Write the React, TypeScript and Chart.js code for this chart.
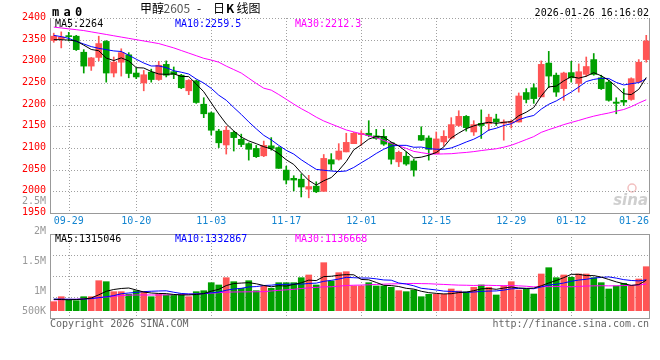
import React, { useEffect, useRef } from 'react';
import { Chart, registerables } from 'chart.js';

Chart.register(...registerables);

// ---------------- data ----------------
const dates = [
  '09-25', '09-26', '09-29', '09-30', '10-09', '10-10', '10-13', '10-14', '10-15', '10-16',
  '10-17', '10-20', '10-21', '10-22', '10-23', '10-24', '10-27', '10-28', '10-29', '10-30',
  '10-31', '11-03', '11-04', '11-05', '11-06', '11-07', '11-10', '11-11', '11-12', '11-13',
  '11-14', '11-17', '11-18', '11-19', '11-20', '11-21', '11-24', '11-25', '11-26', '11-27',
  '11-28', '12-01', '12-02', '12-03', '12-04', '12-05', '12-08', '12-09', '12-10', '12-11',
  '12-12', '12-15', '12-16', '12-17', '12-18', '12-19', '12-22', '12-23', '12-24', '12-25',
  '12-26', '12-29', '12-30', '12-31', '01-05', '01-06', '01-07', '01-08', '01-09', '01-12',
  '01-13', '01-14', '01-15', '01-16', '01-19', '01-20', '01-21', '01-22', '01-23', '01-26',
];

const opens = [
  2348, 2352, 2358, 2358, 2321, 2289, 2309, 2346, 2273, 2298,
  2315, 2273, 2250, 2275, 2258, 2293, 2276, 2268, 2232, 2255,
  2201, 2181, 2139, 2107, 2136, 2120, 2110, 2099, 2082, 2105,
  2101, 2049, 2030, 2028, 2005, 2012, 2000, 2073, 2074, 2091,
  2110, 2131, 2134, 2128, 2127, 2112, 2068, 2081, 2070, 2129,
  2123, 2087, 2114, 2123, 2152, 2173, 2137, 2157, 2156, 2167,
  2157, 2158, 2160, 2228, 2239, 2218, 2296, 2268, 2237, 2274,
  2249, 2270, 2304, 2262, 2252, 2206, 2210, 2212, 2252, 2304,
];
const highs = [
  2365, 2368, 2367, 2360, 2327, 2309, 2358, 2348, 2310, 2329,
  2320, 2285, 2279, 2282, 2300, 2301, 2287, 2270, 2258, 2257,
  2216, 2183, 2143, 2150, 2139, 2132, 2112, 2106, 2116, 2124,
  2103, 2058, 2036, 2040, 2037, 2022, 2085, 2087, 2110, 2134,
  2136, 2140, 2163, 2143, 2143, 2113, 2093, 2091, 2074, 2149,
  2128, 2137, 2140, 2170, 2186, 2175, 2163, 2188, 2178, 2178,
  2165, 2165, 2227, 2237, 2248, 2301, 2323, 2273, 2275, 2300,
  2294, 2310, 2318, 2268, 2256, 2216, 2237, 2262, 2304, 2360,
];
const lows = [
  2344, 2331, 2347, 2325, 2273, 2279, 2301, 2252, 2264, 2266,
  2262, 2260, 2232, 2252, 2256, 2264, 2260, 2237, 2223, 2203,
  2170, 2130, 2101, 2086, 2093, 2103, 2072, 2078, 2080, 2095,
  2053, 2017, 2001, 1987, 1985, 1997, 2000, 2049, 2072, 2091,
  2110, 2106, 2126, 2120, 2106, 2063, 2057, 2060, 2035, 2117,
  2072, 2087, 2105, 2121, 2150, 2139, 2129, 2122, 2140, 2152,
  2118, 2146, 2160, 2204, 2203, 2218, 2239, 2219, 2210, 2252,
  2229, 2265, 2268, 2235, 2208, 2179, 2198, 2210, 2252, 2298,
];
const closes = [
  2358, 2356, 2357, 2327, 2289, 2308, 2341, 2273, 2298, 2320,
  2272, 2264, 2269, 2258, 2291, 2268, 2270, 2239, 2256, 2205,
  2179, 2141, 2112, 2141, 2124, 2108, 2097, 2080, 2106, 2099,
  2053, 2026, 2026, 2010, 2011, 1999, 2076, 2063, 2093, 2113,
  2134, 2134, 2129, 2122, 2109, 2074, 2090, 2063, 2049, 2118,
  2097, 2121, 2127, 2154, 2173, 2147, 2154, 2152, 2171, 2160,
  2160, 2161, 2220, 2212, 2214, 2293, 2266, 2229, 2273, 2262,
  2276, 2288, 2270, 2237, 2210, 2203, 2206, 2260, 2298, 2347,
];
const volumes = [
  388000, 603000, 491000, 431000, 603000, 603000, 1293000, 1250000, 819000, 819000,
  707000, 862000, 819000, 603000, 720000, 677000, 677000, 720000, 603000, 819000,
  862000, 1207000, 1108000, 1422000, 1250000, 965000, 1293000, 862000, 1065000, 965000,
  1207000, 1207000, 1207000, 1422000, 1539000, 1108000, 2069000, 1280000, 1638000, 1681000,
  1065000, 1065000, 1207000, 1065000, 1065000, 1009000, 862000, 819000, 892000, 603000,
  707000, 707000, 707000, 935000, 849000, 806000, 1009000, 1108000, 1009000, 677000,
  1065000, 1250000, 892000, 922000, 720000, 1582000, 1853000, 1422000, 1539000, 1440000,
  1582000, 1582000, 1422000, 1207000, 935000, 1065000, 1181000, 1065000, 1366000, 1896000,
];

// moving-average values at the left edge (window reaches before the visible data)
const priceMA5Head = [2350, 2350, 2349, 2347];
const priceMA10Head = [2360, 2357, 2353, 2346, 2340, 2334, 2330, 2327, 2324];
const priceMA30Head = [
  2379, 2377, 2375, 2373, 2371, 2368, 2365, 2362, 2359, 2356,
  2353, 2350, 2347, 2344, 2341, 2336, 2331, 2325, 2319, 2313,
  2307, 2303, 2298, 2289, 2281, 2273, 2261, 2249, 2238,
];
const volMA5Head = [490000, 480000, 470000, 480000];
const volMA10Head = [500000, 500000, 495000, 490000, 500000, 520000, 560000, 600000, 650000];
const volMA30Head = [
  465000, 475000, 485000, 491000, 510000, 530000, 560000, 590000, 620000, 650000,
  670000, 677000, 677000, 677000, 677000, 680000, 690000, 700000, 710000, 718000,
  735000, 755000, 775000, 800000, 806000, 810000, 813000, 816000, 819000,
];

const dateTicks = ['09-29', '10-20', '11-03', '11-17', '12-01', '12-15', '12-29', '01-12', '01-26'];
const priceTicks = [2400, 2350, 2300, 2250, 2200, 2150, 2100, 2050, 2000, 1950];
const volTickLabels = ['2.5M', '2M', '1.5M', '1M', '500K'];
const priceMALabels = ['MA5:2264', 'MA10:2259.5', 'MA30:2212.3'];
const volMALabels = ['MA5:1315046', 'MA10:1332867', 'MA30:1136668'];

// ---------------- styling ----------------
const MONO = '"DejaVu Sans Mono", "Liberation Mono", monospace';
const CJK = '"Noto Sans CJK SC", sans-serif';
const UP = '#ff5555';
const DOWN = '#00a000';
const GRID = '#a0a0a0';
const FRAME = '#999999';
const MA_COLORS = ['#000000', '#0000ff', '#ff00ff'];
const MA_X = [55, 175, 295];

function movingAverage(values: number[], n: number, head: number[]): number[] {
  return values.map((_, i) => {
    if (i < n - 1) return head[i];
    let s = 0;
    for (let k = i - n + 1; k <= i; k++) s += values[k];
    return s / n;
  });
}

function hLine(ctx: CanvasRenderingContext2D, x1: number, x2: number, y: number) {
  ctx.beginPath();
  ctx.moveTo(x1, y);
  ctx.lineTo(x2, y);
  ctx.stroke();
}
function vLine(ctx: CanvasRenderingContext2D, x: number, y1: number, y2: number) {
  ctx.beginPath();
  ctx.moveTo(x, y1);
  ctx.lineTo(x, y2);
  ctx.stroke();
}

const tickIndices = dateTicks.map((d) => dates.indexOf(d));
const candleColors = closes.map((c, i) => (c > opens[i] ? UP : DOWN));

function drawVerticalGrid(ctx: CanvasRenderingContext2D, chart: any) {
  const a = chart.chartArea;
  const xs = chart.scales.x;
  tickIndices.forEach((i) => {
    const px = Math.round(xs.getPixelForValue(i)) + 0.5;
    if (px > a.right - 5) return;
    vLine(ctx, px, a.top, a.bottom);
  });
}

const mainDecor = {
  id: 'mainDecor',
  beforeDatasetsDraw(chart: any) {
    const ctx: CanvasRenderingContext2D = chart.ctx;
    const a = chart.chartArea;
    const ys = chart.scales.y;
    ctx.save();
    // watermark
    ctx.fillStyle = '#cfcfcf';
    ctx.font = `italic bold 15px "DejaVu Sans", sans-serif`;
    ctx.textAlign = 'right';
    ctx.textBaseline = 'alphabetic';
    ctx.fillText('sina', a.right - 2, a.bottom - 8);
    ctx.strokeStyle = '#f2c0c0';
    ctx.lineWidth = 1.5;
    ctx.beginPath();
    ctx.arc(a.right - 18, a.bottom - 25, 4, 0, Math.PI * 2);
    ctx.stroke();
    // grid
    ctx.lineWidth = 1;
    ctx.strokeStyle = GRID;
    ctx.setLineDash([1, 2]);
    priceTicks.forEach((v) => {
      const py = Math.round(ys.getPixelForValue(v)) + 0.5;
      if (py > a.bottom - 1) return;
      hLine(ctx, a.left, a.right, py);
    });
    drawVerticalGrid(ctx, chart);
    ctx.setLineDash([]);
    ctx.strokeStyle = FRAME;
    vLine(ctx, Math.round(a.left) + 0.5, a.top, a.bottom + 1);
    vLine(ctx, Math.round(a.right) - 0.5, a.top, a.bottom + 1);
    hLine(ctx, a.left, a.right, Math.round(a.bottom) + 0.5);
    ctx.restore();
  },
  afterDraw(chart: any) {
    const ctx: CanvasRenderingContext2D = chart.ctx;
    const a = chart.chartArea;
    const xs = chart.scales.x;
    const ys = chart.scales.y;
    ctx.save();
    ctx.textBaseline = 'alphabetic';
    // price labels
    ctx.font = `10px ${MONO}`;
    ctx.fillStyle = '#ff0000';
    ctx.textAlign = 'right';
    priceTicks.forEach((v) => {
      ctx.fillText(String(v), a.left - 4, ys.getPixelForValue(v) + 2);
    });
    // date labels
    ctx.fillStyle = '#1485d0';
    ctx.textAlign = 'left';
    dateTicks.forEach((d, k) => {
      const px = xs.getPixelForValue(tickIndices[k]);
      const w = ctx.measureText(d).width;
      let left = px - w / 2;
      if (left < a.left) left = a.left;
      if (left + w > a.right - 1) left = a.right - 1 - w;
      ctx.fillText(d, left, a.bottom + 11);
    });
    // MA labels
    priceMALabels.forEach((t, k) => {
      ctx.fillStyle = MA_COLORS[k];
      ctx.fillText(t, MA_X[k], a.top + 9);
    });
    // header "m a 0"
    ctx.fillStyle = '#000';
    ctx.font = `bold 12px ${MONO}`;
    ctx.textAlign = 'center';
    ctx.fillText('m', 55.5, 16);
    ctx.fillText('a', 67, 16);
    ctx.fillText('0', 78.5, 16);
    // title
    ctx.textAlign = 'left';
    ctx.font = `12px ${CJK}`;
    ctx.fillStyle = '#000';
    ctx.fillText('甲醇', 140, 13);
    ctx.fillStyle = '#555';
    ctx.fillText('2605', 163.5, 13);
    ctx.fillStyle = '#000';
    ctx.fillText('-', 197, 13);
    ctx.fillText('日', 213, 13);
    ctx.font = `bold 12px ${CJK}`;
    ctx.fillText('K', 226, 13);
    ctx.font = `12px ${CJK}`;
    ctx.fillText('线图', 236.5, 13);
    // date-time
    ctx.font = `10px ${MONO}`;
    ctx.textAlign = 'right';
    ctx.fillText('2026-01-26 16:16:02', a.right - 1, 15.5);
    ctx.restore();
  },
};

const volDecor = {
  id: 'volDecor',
  beforeDatasetsDraw(chart: any) {
    const ctx: CanvasRenderingContext2D = chart.ctx;
    const a = chart.chartArea;
    ctx.save();
    ctx.lineWidth = 1;
    ctx.strokeStyle = GRID;
    ctx.setLineDash([1, 2]);
    for (let k = 1; k <= 3; k++) {
      const py = Math.round(a.top + ((a.bottom - a.top) * k) / 4) + 0.5;
      hLine(ctx, a.left, a.right, py);
    }
    drawVerticalGrid(ctx, chart);
    ctx.setLineDash([]);
    ctx.strokeStyle = FRAME;
    ctx.strokeRect(Math.round(a.left) + 0.5, Math.round(a.top) + 0.5, a.right - a.left - 1, a.bottom - a.top);
    ctx.restore();
  },
  afterDraw(chart: any) {
    const ctx: CanvasRenderingContext2D = chart.ctx;
    const a = chart.chartArea;
    ctx.save();
    ctx.textBaseline = 'alphabetic';
    ctx.font = `10px ${MONO}`;
    ctx.fillStyle = '#999999';
    ctx.textAlign = 'right';
    volTickLabels.forEach((t, k) => {
      const y = Math.min(a.top + 30 * (k - 1), a.bottom - 4);
      ctx.fillText(t, a.left - 4, y);
    });
    ctx.textAlign = 'left';
    volMALabels.forEach((t, k) => {
      ctx.fillStyle = MA_COLORS[k];
      ctx.fillText(t, MA_X[k], a.top + 8);
    });
    ctx.fillStyle = '#666666';
    ctx.fillText('Copyright 2026 SINA.COM', a.left, a.bottom + 9);
    ctx.textAlign = 'right';
    ctx.fillText('http://finance.sina.com.cn', a.right - 1, a.bottom + 9);
    ctx.restore();
  },
};

function lineDs(label: string, data: number[], color: string) {
  return {
    type: 'line' as const,
    label,
    data,
    borderColor: color,
    borderWidth: 1,
    pointRadius: 0,
    tension: 0,
    fill: false,
    order: 0,
  };
}

const baseOptions = (padding: any, yMin: number, yMax: number) => ({
  responsive: false,
  animation: false as const,
  devicePixelRatio: 1,
  events: [] as any[],
  layout: { padding },
  plugins: { legend: { display: false }, tooltip: { enabled: false }, title: { display: false } },
  scales: {
    x: { display: false, offset: true, grid: { display: false } },
    y: { display: false, min: yMin, max: yMax, grid: { display: false } },
  },
});

export default function App() {
  const mainRef = useRef<HTMLCanvasElement>(null);
  const volRef = useRef<HTMLCanvasElement>(null);

  useEffect(() => {
    const ma5 = movingAverage(closes, 5, priceMA5Head);
    const ma10 = movingAverage(closes, 10, priceMA10Head);
    const ma30 = movingAverage(closes, 30, priceMA30Head);
    const vma5 = movingAverage(volumes, 5, volMA5Head);
    const vma10 = movingAverage(volumes, 10, volMA10Head);
    const vma30 = movingAverage(volumes, 30, volMA30Head);

    const main = new Chart(mainRef.current as HTMLCanvasElement, {
      type: 'bar',
      data: {
        labels: dates,
        datasets: [
          lineDs('MA5', ma5, MA_COLORS[0]),
          lineDs('MA10', ma10, MA_COLORS[1]),
          lineDs('MA30', ma30, MA_COLORS[2]),
          {
            type: 'bar',
            label: 'body',
            data: opens.map((o, i) => [o, closes[i]]),
            backgroundColor: candleColors,
            borderWidth: 0,
            barThickness: 6,
            grouped: false,
            minBarLength: 1,
            order: 1,
          },
          {
            type: 'bar',
            label: 'wick',
            data: lows.map((l, i) => [l, highs[i]]),
            backgroundColor: candleColors,
            borderWidth: 0,
            barThickness: 1,
            grouped: false,
            order: 2,
          },
        ] as any,
      },
      options: baseOptions({ left: 50, right: 10, top: 18, bottom: 147 }, 1950, 2400) as any,
      plugins: [mainDecor],
    });

    const vol = new Chart(volRef.current as HTMLCanvasElement, {
      type: 'bar',
      data: {
        labels: dates,
        datasets: [
          lineDs('MA5', vma5, MA_COLORS[0]),
          lineDs('MA10', vma10, MA_COLORS[1]),
          lineDs('MA30', vma30, MA_COLORS[2]),
          {
            type: 'bar',
            label: 'volume',
            data: volumes,
            backgroundColor: candleColors,
            borderWidth: 0,
            barThickness: 6,
            grouped: false,
            order: 1,
          },
        ] as any,
      },
      options: baseOptions({ left: 50, right: 10, top: 234, bottom: 42 }, -315000, 3305000) as any,
      plugins: [volDecor],
    });

    return () => {
      main.destroy();
      vol.destroy();
    };
  }, []);

  return (
    <div style={{ position: 'fixed', left: 0, top: 0, width: 660, height: 360, background: '#ffffff' }}>
      <canvas ref={mainRef} width={660} height={360} style={{ position: 'absolute', left: 0, top: 0 }} />
      <canvas ref={volRef} width={660} height={360} style={{ position: 'absolute', left: 0, top: 0 }} />
    </div>
  );
}
